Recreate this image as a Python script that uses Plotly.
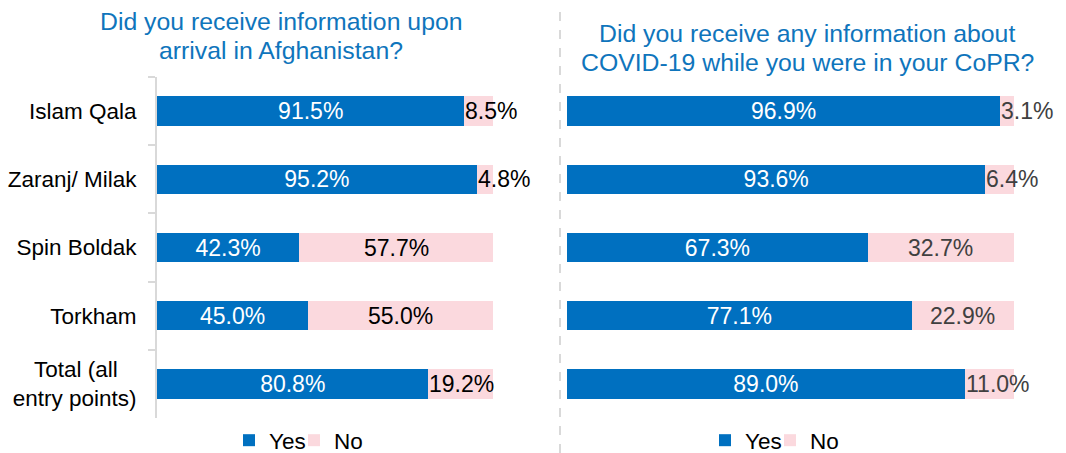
import plotly.graph_objects as go

categories = ["Islam Qala", "Zaranj/ Milak", "Spin Boldak", "Torkham",
              "Total (all\u00a0\u00a0\u00a0<br>entry points)"]
left_yes = [91.5, 95.2, 42.3, 45.0, 80.8]
left_no = [8.5, 4.8, 57.7, 55.0, 19.2]
right_yes = [96.9, 93.6, 67.3, 77.1, 89.0]
right_no = [3.1, 6.4, 32.7, 22.9, 11.0]
left_title = ["Did you receive information upon", "arrival in Afghanistan?"]
right_title = ["Did you receive any information about", "COVID-19 while you were in your CoPR?"]

BLUE = "#0070c0"
PINK = "#fbd9de"
FONT = "Liberation Sans, Arial, sans-serif"
LBL = 23
W, H = 1066, 453

fig = go.Figure()


def add_panel(yes, no, xa, ya, leg_yes, leg_no, no_color):
    fig.add_trace(go.Bar(y=categories, x=yes, orientation="h", name="Yes",
                         marker=dict(color=BLUE, line=dict(width=0)), width=0.43,
                         xaxis=xa, yaxis=ya, legend=leg_yes,
                         text=[f"{v:.1f}%" for v in yes], textposition="inside",
                         insidetextanchor="middle", textangle=0, constraintext="none",
                         textfont=dict(color="white", size=LBL, family=FONT),
                         hoverinfo="skip"))
    fig.add_trace(go.Bar(y=categories, x=no, orientation="h", name="No",
                         marker=dict(color=PINK, line=dict(width=0)), width=0.43,
                         xaxis=xa, yaxis=ya, legend=leg_no,
                         hoverinfo="skip"))
    for c, y_, n_ in zip(categories, yes, no):
        small = n_ < 20
        fig.add_annotation(x=y_ if small else y_ + n_ / 2, y=c, xref=xa, yref=ya,
                           text=f"{n_:.1f}%", showarrow=False,
                           xanchor="left" if small else "center", xshift=-1 if small else 0,
                           font=dict(color=no_color, size=LBL, family=FONT))


add_panel(left_yes, left_no, "x", "y", "legend", "legend3", "#000000")
add_panel(right_yes, right_no, "x2", "y2", "legend2", "legend4", "#404040")

ydom = [1 - 418 / H, 1 - 77 / H]
legend_common = dict(orientation="h", xanchor="left", y=-0.02, yanchor="bottom",
                     font=dict(size=22.5, color="#000000", family=FONT), itemwidth=30,
                     bgcolor="rgba(0,0,0,0)")
fig.update_layout(
    width=W, height=H, barmode="stack",
    margin=dict(l=0, r=0, t=0, b=0, autoexpand=False),
    paper_bgcolor="white", plot_bgcolor="white",
    font=dict(family=FONT, color="#000000"),
    xaxis=dict(domain=[157 / W, 493 / W], range=[0, 100], visible=False, fixedrange=True),
    yaxis=dict(domain=ydom, autorange=False, range=[4.5, -0.5], showline=True,
               linecolor="#d9d9d9", linewidth=2, ticks="outside", tickson="boundaries",
               ticklen=7, tickcolor="#d9d9d9", tickwidth=2, showgrid=False, automargin=False,
               tickfont=dict(size=22.5, color="#000000", family=FONT), ticklabelstandoff=14),
    xaxis2=dict(domain=[567 / W, 1014 / W], range=[0, 100], visible=False, anchor="y2"),
    yaxis2=dict(domain=ydom, autorange=False, range=[4.5, -0.5], visible=False, anchor="x2",
                automargin=False),
    legend=dict(x=229 / W, **legend_common),
    legend3=dict(x=294 / W, **legend_common),
    legend2=dict(x=705 / W, **legend_common),
    legend4=dict(x=770 / W, **legend_common),
    showlegend=True,
)

# titles, one annotation per line
for i, line in enumerate(left_title):
    fig.add_annotation(text=line, x=281 / W, y=1 - (21 + 29 * i) / H, xref="paper", yref="paper",
                       xanchor="center", yanchor="middle", showarrow=False,
                       font=dict(size=24.8, color="#0f75bc", family=FONT))
for i, line in enumerate(right_title):
    fig.add_annotation(text=line, x=807 / W, y=1 - (33 + 29 * i) / H, xref="paper", yref="paper",
                       xanchor="center", yanchor="middle", showarrow=False,
                       font=dict(size=24.8, color="#0f75bc", family=FONT))

fig.add_shape(type="line", x0=560 / W, x1=560 / W, y0=0, y1=1 - 10 / H,
              xref="paper", yref="paper", line=dict(color="#d9d9d9", width=2, dash="dash"))

fig.write_html("out.html", config={"displayModeBar": False},
               post_script="document.body.style.margin='0';document.body.style.overflow='hidden';")
